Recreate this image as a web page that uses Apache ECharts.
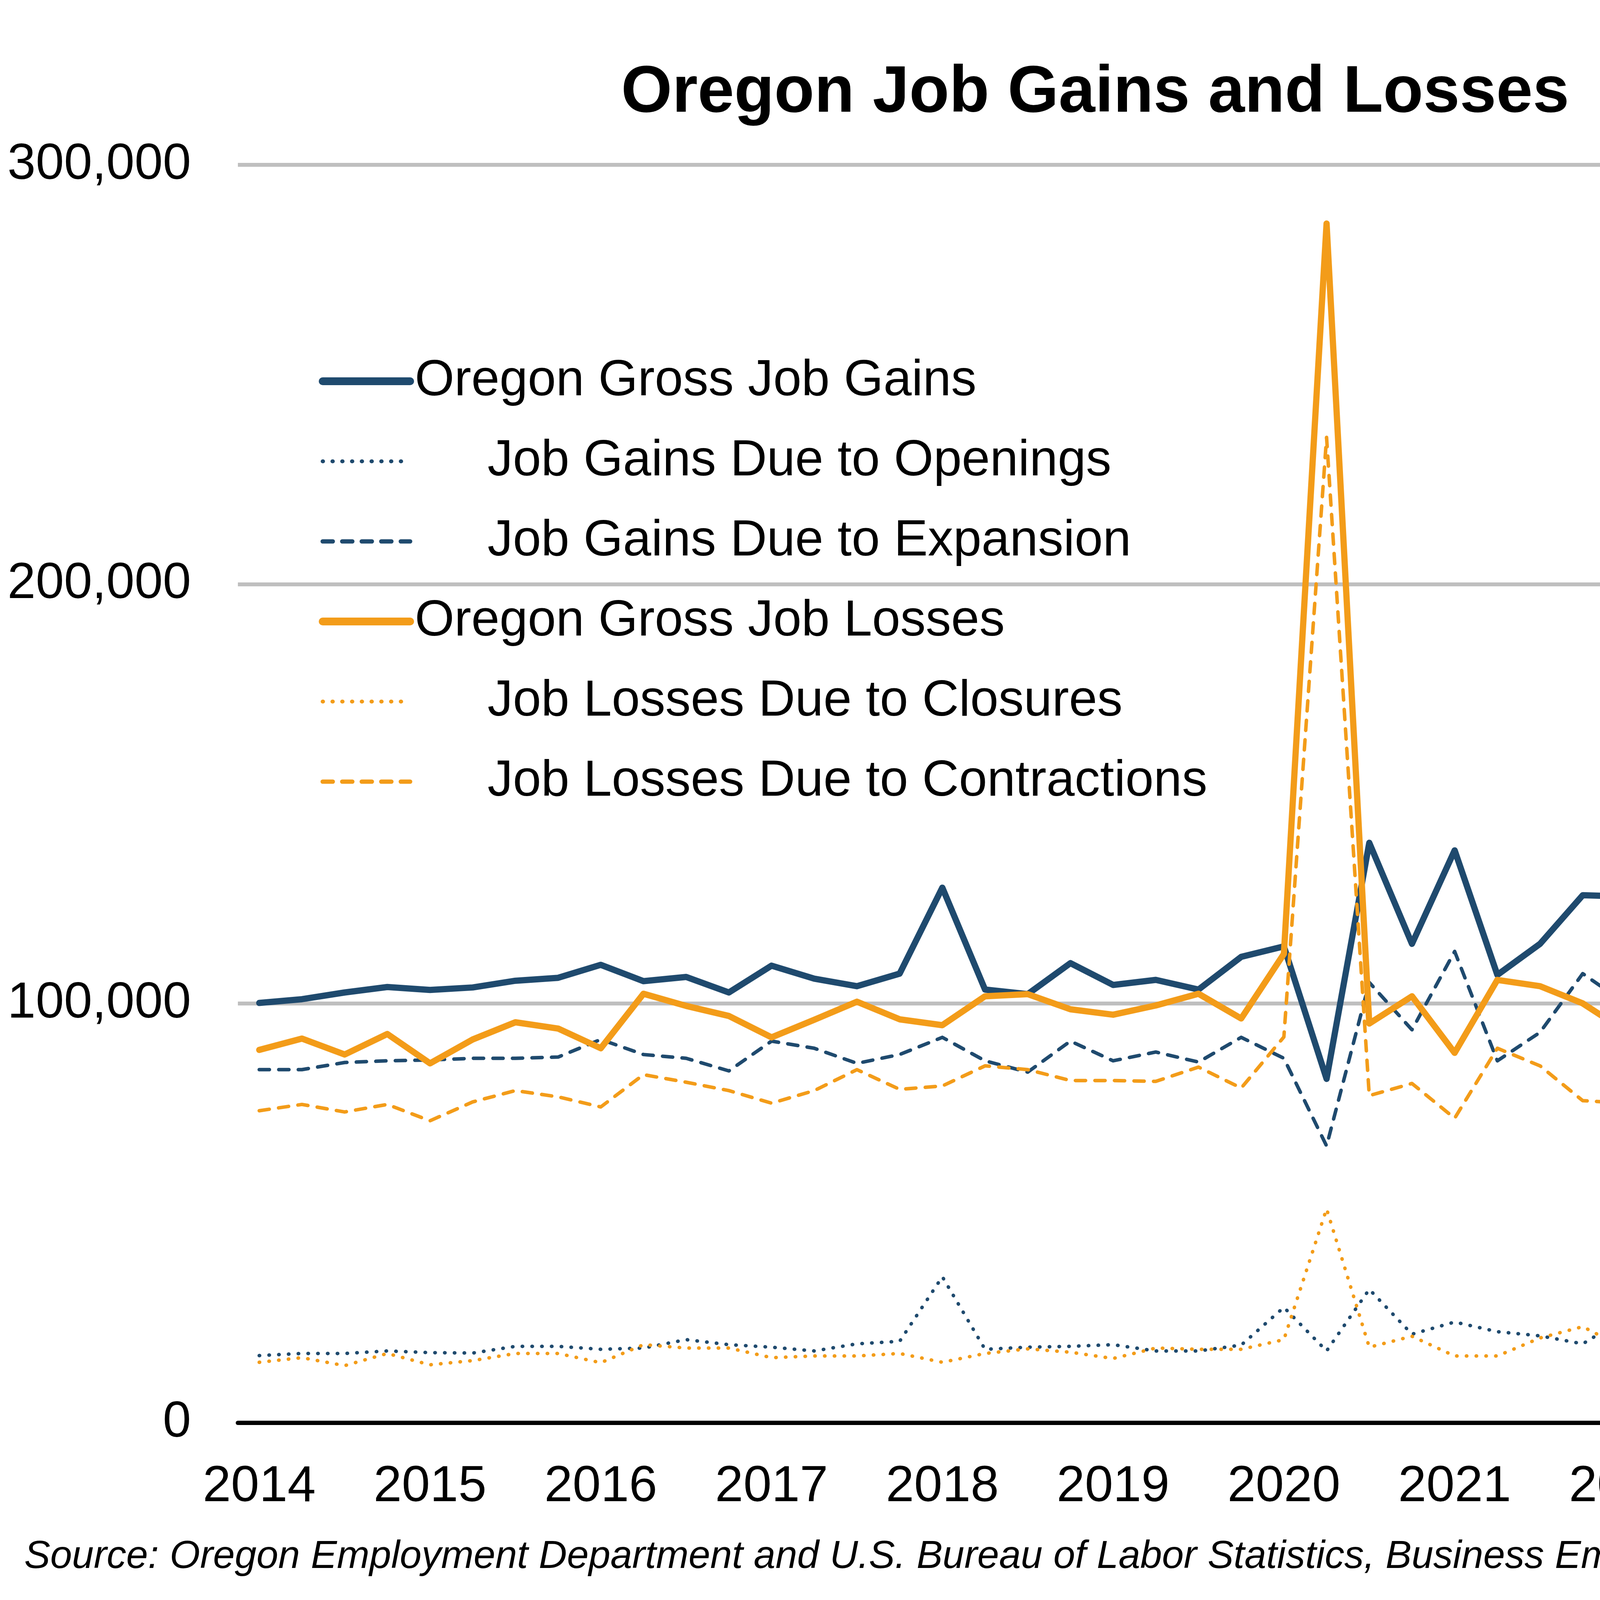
<!DOCTYPE html>
<html>
<head>
<meta charset="utf-8">
<script src="https://cdn.jsdelivr.net/npm/echarts@6/dist/echarts.min.js"></script>
<style>
html,body{margin:0;padding:0;background:#fff;}
#chart{width:5681px;height:4117px;}
</style>
</head>
<body>
<div id="chart"></div>
<script>
// ---- Data (quarterly, 2014 Q1 - 2024 Q4) ----
var years = ['2014','2015','2016','2017','2018','2019','2020','2021','2022','2023','2024'];
var quarterNames = ['Q1','Q2','Q3','Q4'];

var grossGains = [100100,101000,102600,103900,103200,103800,105400,106100,109200,105300,106300,102600,
  109000,105900,104100,107100,127600,103300,102200,109600,104400,105600,103300,111100,
  113600,82000,138300,114200,136500,106800,114200,125800,125500,99700,111100,109200,
  128500,109200,101700,104400,113300,103800,106200,105100];

var gainsOpenings = [16000,16500,16500,17100,16700,16600,18200,18200,17500,17800,19800,18600,
  18000,17100,18800,19400,34800,17500,18000,18200,18600,17100,17100,18500,
  27500,17100,31800,21100,24000,21700,20700,18800,25000,17600,18000,24200,
  24600,23600,19600,19800,22900,17800,16900,19400];

var gainsExpansion = [84200,84200,85900,86300,86500,86900,86900,87200,91400,87800,86900,83900,
  91000,89300,85700,87800,91900,86300,83600,91000,86300,88400,86000,91900,
  86900,66000,105000,93700,112400,86300,93100,107100,100000,82700,92500,85700,
  103800,85100,82100,85700,90200,86300,89300,85500];

var grossLosses = [88900,91600,87800,92700,85700,91400,95500,94000,89300,102300,99400,97000,
  91900,96100,100400,96200,94800,101700,102200,98600,97300,99500,102300,96400,
  111800,286000,95200,101700,88200,105600,104100,100000,93400,116000,97600,105000,
  99700,113600,113600,105100,101100,108600,111500,110900];

var lossesClosures = [14400,15500,13600,16500,13800,14800,16500,16500,14300,18600,17800,17800,
  15500,15900,15900,16500,14400,16500,17600,16800,15300,17800,17500,17500,
  19800,51000,18000,20600,15900,15900,20200,22900,17600,19800,16100,18800,
  17500,21300,23100,20600,17100,19200,23800,20600];

var lossesContractions = [74400,75900,74100,75900,72000,76500,79200,77700,75300,83000,81200,79200,
  76200,79200,84200,79500,80300,85100,84200,81600,81600,81400,84800,79800,
  92000,235000,78000,80900,72600,89300,85100,76800,76200,96100,82100,85700,
  82700,92200,90700,84800,84200,89300,87800,91000];

var yTicks = [0, 100000, 200000, 300000];

var seriesNames = [
  'Oregon Gross Job Gains',
  'Job Gains Due to Openings',
  'Job Gains Due to Expansion',
  'Oregon Gross Job Losses',
  'Job Losses Due to Closures',
  'Job Losses Due to Contractions'
];

// categories
var categories = [];
years.forEach(function (y) { quarterNames.forEach(function (q) { categories.push(y + ' ' + q); }); });

// ---- Styles ----
var NAVY = '#1F4A6E';
var ORANGE = '#F39C19';
var FONT = "'Liberation Sans', Arial, sans-serif";
var SOLID_W = 16, THIN_W = 9;
var DOT = [1, 24];
var DASH = [26, 24];

var styles = [
  {color: NAVY, width: SOLID_W, type: 'solid', lw: 20},
  {color: NAVY, width: THIN_W, type: DOT, lw: 10},
  {color: NAVY, width: THIN_W, type: DASH, lw: 11},
  {color: ORANGE, width: SOLID_W, type: 'solid', lw: 20},
  {color: ORANGE, width: THIN_W, type: DOT, lw: 10},
  {color: ORANGE, width: THIN_W, type: DASH, lw: 11}
];
var dataSets = [grossGains, gainsOpenings, gainsExpansion, grossLosses, lossesClosures, lossesContractions];
var indented = {};
[1,2,4,5].forEach(function(i){ indented[seriesNames[i]] = true; });

var series = seriesNames.map(function (name, i) {
  return {
    name: name,
    type: 'line',
    data: dataSets[i],
    symbol: 'none',
    showSymbol: false,
    smooth: false,
    animation: false,
    lineStyle: {color: styles[i].color, width: styles[i].width, type: styles[i].type, cap: 'round', join: 'round'},
    itemStyle: {color: styles[i].color},
    z: 2 + i
  };
});

var chart = echarts.init(document.getElementById('chart'), null, {renderer: 'canvas'});
chart.setOption({
  backgroundColor: '#ffffff',
  animation: false,
  title: [
    {
      text: 'Oregon Job Gains and Losses',
      left: 1590, top: 156,
      padding: 0,
      textStyle: {fontFamily: FONT, fontSize: 168, fontWeight: 'bold', color: '#000'}
    },
    {
      text: 'Source: Oregon Employment Department and U.S. Bureau of Labor Statistics, Business Employment Dynamics',
      left: 62, top: 3936,
      padding: 0,
      textStyle: {fontFamily: FONT, fontSize: 100, fontWeight: 'normal', fontStyle: 'italic', color: '#000'}
    }
  ],
  legend: {
    orient: 'vertical',
    left: 816, top: 911,
    padding: 0,
    itemWidth: 224,
    itemHeight: 20,
    itemGap: 75,
    selectedMode: false,
    itemStyle: {opacity: 0, borderWidth: 0},
    data: seriesNames.map(function (n, i) {
      return {
        name: n,
        itemStyle: {opacity: 0, borderWidth: 0, color: 'rgba(0,0,0,0)'},
        lineStyle: {color: styles[i].color, width: styles[i].lw, type: styles[i].type, cap: 'round'}
      };
    }),
    formatter: function (name) { return indented[name] ? '{i|' + name + '}' : '{n|' + name + '}'; },
    textStyle: {
      fontFamily: FONT, fontSize: 130, color: '#000',
      rich: {
        n: {fontFamily: FONT, fontSize: 130, color: '#000', lineHeight: 130, padding: [0, 0, 0, 7]},
        i: {fontFamily: FONT, fontSize: 130, color: '#000', lineHeight: 130, padding: [0, 0, 0, 193]}
      }
    }
  },
  grid: {left: 609, right: 263, top: 422, bottom: 475, containLabel: false},
  xAxis: {
    type: 'category',
    data: categories,
    boundaryGap: true,
    axisLine: {show: true, lineStyle: {color: '#000', width: 11}},
    axisTick: {show: false},
    axisLabel: {
      interval: 3,
      margin: 100,
      fontFamily: FONT, fontSize: 130, color: '#000',
      formatter: function (v) { return v.split(' ')[0]; }
    },
    splitLine: {show: false}
  },
  yAxis: {
    type: 'value',
    min: yTicks[0],
    max: yTicks[yTicks.length - 1],
    interval: yTicks[1] - yTicks[0],
    axisLine: {show: false},
    axisTick: {show: false},
    axisLabel: {
      margin: 120,
      fontFamily: FONT, fontSize: 130, color: '#000',
      formatter: function (v) { return v.toLocaleString('en-US'); }
    },
    splitLine: {show: true, lineStyle: {color: '#BFBFBF', width: 10}}
  },
  series: series
});
</script>
</body>
</html>
